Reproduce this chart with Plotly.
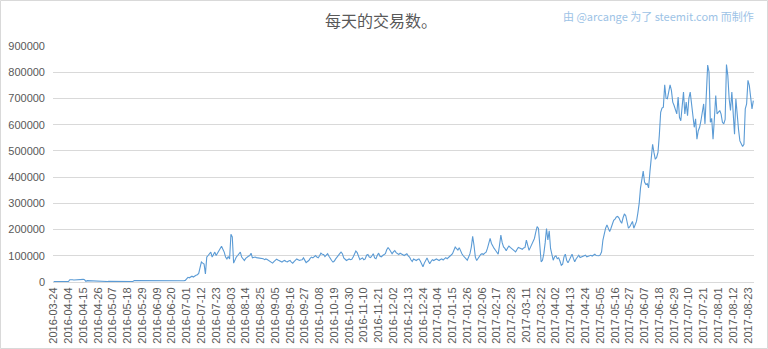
import plotly.graph_objects as go
import pandas as pd

title_text = "每天的交易数。"
credit_text = "由 @arcange 为了 steemit.com 而制作"
start_date = "2016-03-24"

# daily transaction counts (one value per day from 2016-03-24)
tx_2016_spring = [
    1500, 1200, 1800, 1500, 1300, 1600, 1400, 1700, 1500, 1300, 1600, 1800,
    8500, 9200, 8800, 7600, 8200, 9500, 10200, 9800, 8700, 9300, 10100, 8400,
    2500, 5200, 4800, 5500, 5100, 4700, 5300, 4900,
    2100, 1900, 2200, 2000, 1800, 2100, 2300, 2000, 1900, 2200, 2100, 1800, 2000, 2200,
    1900, 2100, 2000, 2300, 1900, 2100, 2000, 1800, 2200, 2100, 1900, 2000, 2200, 2100,
    5200, 5100, 4900, 5300, 5000, 5200, 4800, 5100, 5300, 5000, 4900, 5200, 5100, 5000,
    5300, 4900, 5100, 5200, 5000, 4800, 5100, 5300, 5200, 4900, 5000, 5100, 5300, 5000,
    4900, 5200, 5100, 5000, 5300, 5100, 4900, 5200, 5000, 5400, 6000,
]
tx_2016_summer = [
    12000, 18000, 16000, 20000, 22000, 19000, 24000, 26000, 28000, 33000,
    55000, 76000, 72000, 68000, 31000, 95000, 101000, 108000, 114000, 95000,
    105000, 114000, 101000, 110000, 118000, 127000, 136000, 125000, 114000, 95000,
    88000, 97000, 88000, 182000, 172000, 72000, 88000, 95000, 101000, 108000,
    114000, 95000, 88000, 82000, 90000, 95000, 98000, 101000, 110000, 92000,
    94000, 95000, 93000, 92000, 92000, 90000, 88000, 89000, 85000, 88000,
    86000, 82000, 80000, 76000, 72000, 78000, 82000, 87000, 84000, 82000,
    79000, 76000, 80000, 82000, 78000, 77000, 80000, 82000, 76000, 72000,
]
tx_2016_autumn = [
    78000, 82000, 88000, 85000, 82000, 84000, 85000, 92000, 80000, 74000,
    78000, 82000, 90000, 95000, 92000, 96000, 101000, 95000, 92000, 100000,
    110000, 106000, 105000, 97000, 102000, 108000, 98000, 88000, 82000, 76000,
    80000, 88000, 96000, 104000, 108000, 114000, 108000, 92000, 88000, 82000,
    85000, 88000, 85000, 87000, 95000, 105000, 118000, 112000, 100000, 85000,
    89000, 92000, 85000, 88000, 102000, 105000, 95000, 93000, 100000, 108000,
    92000, 89000, 102000, 110000, 98000, 96000, 101000, 104000, 108000, 123000,
    131000, 125000, 118000, 108000, 115000, 120000, 112000, 108000, 105000, 110000,
    108000, 104000, 101000, 106000, 108000, 100000, 95000, 85000, 78000, 88000,
    85000, 82000, 86000, 88000, 80000, 70000, 58000, 72000, 82000, 92000,
]
tx_2017_q1 = [
    80000, 70000, 78000, 85000, 82000, 86000, 88000, 85000, 82000, 86000,
    88000, 84000, 90000, 93000, 89000, 95000, 98000, 103000, 108000, 125000,
    133000, 127000, 122000, 131000, 118000, 108000, 100000, 93000, 88000, 83000,
    95000, 108000, 133000, 174000, 140000, 95000, 82000, 90000, 98000, 105000,
    108000, 105000, 110000, 114000, 128000, 152000, 166000, 147000, 135000, 128000,
    121000, 112000, 106000, 140000, 179000, 150000, 134000, 128000, 119000, 130000,
    137000, 132000, 128000, 125000, 120000, 115000, 124000, 132000, 130000, 128000,
    125000, 130000, 132000, 160000, 140000, 121000, 132000, 144000, 155000, 166000,
    190000, 211000, 204000, 121000, 77000, 83000, 108000, 150000, 204000, 160000,
    195000, 128000, 108000, 83000, 96000, 100000, 89000, 92000, 80000, 64000,
]
tx_2017_spring = [
    68000, 96000, 106000, 83000, 73000, 85000, 96000, 106000, 90000, 77000,
    88000, 96000, 102000, 93000, 95000, 98000, 100000, 102000, 96000, 98000,
    101000, 102000, 99000, 104000, 106000, 101000, 99000, 100000, 103000, 115000,
    160000, 185000, 205000, 218000, 205000, 192000, 205000, 218000, 235000, 240000,
    248000, 250000, 244000, 232000, 224000, 245000, 260000, 253000, 230000, 205000,
    211000, 225000, 231000, 205000, 218000, 231000, 263000, 300000, 359000, 390000,
    423000, 381000, 372000, 375000, 359000, 420000, 462000, 525000, 494000, 468000,
    475000, 494000, 560000, 647000, 663000, 667000, 752000, 701000, 699000, 720000,
]
tx_2017_summer = [
    752000, 731000, 686000, 673000, 655000, 641000, 705000, 628000, 615000, 680000,
    724000, 641000, 686000, 634000, 700000, 724000, 686000, 640000, 590000, 622000,
    545000, 577000, 590000, 615000, 650000, 679000, 603000, 700000, 827000, 801000,
    609000, 624000, 545000, 622000, 711000, 641000, 647000, 654000, 640000, 609000,
    603000, 620000, 829000, 788000, 699000, 654000, 724000, 660000, 564000, 699000,
    622000, 580000, 538000, 530000, 517000, 525000, 660000, 679000, 769000, 750000,
    699000, 660000, 692000,
]

tick_labels = [
    "2016-03-24", "2016-04-04", "2016-04-15", "2016-04-26", "2016-05-07", "2016-05-18",
    "2016-05-29", "2016-06-09", "2016-06-20", "2016-07-01", "2016-07-12", "2016-07-23",
    "2016-08-03", "2016-08-14", "2016-08-25", "2016-09-05", "2016-09-16", "2016-09-27",
    "2016-10-08", "2016-10-19", "2016-10-30", "2016-11-10", "2016-11-21", "2016-12-02",
    "2016-12-13", "2016-12-24", "2017-01-04", "2017-01-15", "2017-01-26", "2017-02-06",
    "2017-02-17", "2017-02-28", "2017-03-11", "2017-03-22", "2017-04-02", "2017-04-13",
    "2017-04-24", "2017-05-05", "2017-05-16", "2017-05-27", "2017-06-07", "2017-06-18",
    "2017-06-29", "2017-07-10", "2017-07-21", "2017-08-01", "2017-08-12", "2017-08-23",
]
y_ticks = [0, 100000, 200000, 300000, 400000, 500000, 600000, 700000, 800000, 900000]

values = (tx_2016_spring + tx_2016_summer + tx_2016_autumn
          + tx_2017_q1 + tx_2017_spring + tx_2017_summer)
dates = pd.date_range(start_date, periods=len(values), freq="D")

fig = go.Figure()
fig.add_trace(go.Scatter(
    x=dates, y=values, mode="lines",
    line=dict(color="#5B9BD5", width=1.1),
    hoverinfo="x+y", showlegend=False,
))

x0 = dates[0] - pd.Timedelta(hours=12)
x1 = dates[-1] + pd.Timedelta(hours=12)

L, R, T, B = 53, 14, 46, 67
W, H = 768, 349
pw, ph = W - L - R, H - T - B

fig.update_layout(
    width=W, height=H,
    margin=dict(l=L, r=R, t=T, b=B, autoexpand=False),
    paper_bgcolor="white", plot_bgcolor="white",
    font=dict(family="Liberation Sans, Arial, sans-serif", size=11, color="#595959"),
    xaxis=dict(
        type="date", range=[x0, x1], automargin=False,
        tickvals=list(pd.to_datetime(tick_labels)), ticktext=tick_labels,
        tickangle=-90, showgrid=False, ticks="", showline=True,
        linecolor="#D9D9D9", linewidth=1, zeroline=False,
        tickfont=dict(size=11, color="#595959"),
    ),
    yaxis=dict(
        range=[0, 900000], tickvals=y_ticks, ticktext=[str(v) for v in y_ticks],
        showgrid=True, gridcolor="#D9D9D9", gridwidth=1, zeroline=False,
        showline=False, ticks="", ticklabelstandoff=7, automargin=False,
        tickfont=dict(size=11, color="#595959"),
    ),
    shapes=[dict(
        type="rect", xref="paper", yref="paper",
        x0=(0.5 - L) / pw, x1=(W - 0.5 - L) / pw,
        y0=-(B - 0.5) / ph, y1=1 + (T - 0.5) / ph,
        line=dict(color="#D9D9D9", width=1), fillcolor="rgba(0,0,0,0)", layer="below",
    )],
    annotations=[
        dict(text=title_text, xref="paper", yref="paper",
             x=(381 - L) / pw, y=1 + (T - 20) / ph, xanchor="center", yanchor="middle",
             showarrow=False,
             font=dict(family="Noto Sans CJK SC", size=16, color="#595959")),
        dict(text=credit_text, xref="paper", yref="paper",
             x=(756 - L) / pw, y=1 + (T - 16) / ph, xanchor="right", yanchor="middle",
             showarrow=False,
             font=dict(family="Noto Sans CJK SC", size=11, color="#9DC3E6")),
    ],
)

fig.write_html("out.html")
